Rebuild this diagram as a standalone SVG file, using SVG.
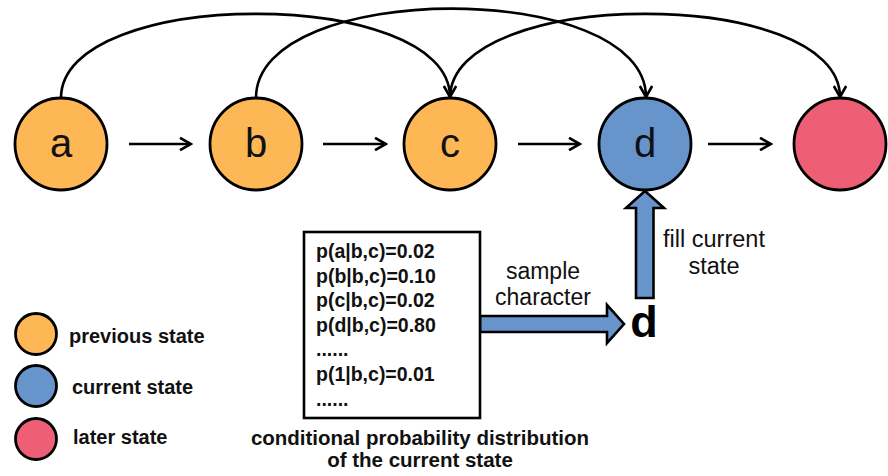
<svg xmlns="http://www.w3.org/2000/svg" width="888" height="476" viewBox="0 0 888 476">
  <style>
    .state { stroke: #000; stroke-width: 2.8; }
    .prev { fill: #FDB755; }
    .cur { fill: #6894CC; }
    .later { fill: #EE5F76; }
    .edge { fill: none; stroke: #000; stroke-width: 2.6; }
    .block { fill: #6894CC; stroke: #000; stroke-width: 2.6; stroke-linejoin: miter; }
    .letter { font-family: "Liberation Sans", Arial, sans-serif; font-size: 40px; text-anchor: middle; fill: #111; }
    .prob { font-family: "Liberation Sans", Arial, sans-serif; font-size: 19.5px; font-weight: bold; fill: #111; }
    .legend { font-family: "Liberation Sans", Arial, sans-serif; font-size: 20px; font-weight: bold; fill: #111; }
    .note { font-family: "Liberation Sans", Arial, sans-serif; font-size: 23px; text-anchor: middle; fill: #111; }
    .caption { font-family: "Liberation Sans", Arial, sans-serif; font-size: 20.5px; font-weight: bold; text-anchor: middle; fill: #111; }
  </style>
  <defs>
    <marker id="chevron" viewBox="0 0 14 14" refX="12" refY="7" markerWidth="14" markerHeight="14" markerUnits="userSpaceOnUse" orient="auto">
      <path d="M1,0.8 L12,7 L1,13.2" fill="none" stroke="#000" stroke-width="2.6" stroke-linejoin="miter"/>
    </marker>
  </defs>

  <!-- connectors -->
  <g id="connectors">
    <path class="edge" d="M129,144 H191" marker-end="url(#chevron)"/>
    <path class="edge" d="M323,144 H386" marker-end="url(#chevron)"/>
    <path class="edge" d="M518,144 H580" marker-end="url(#chevron)"/>
    <path class="edge" d="M708,144 H771" marker-end="url(#chevron)"/>
    <path class="edge" d="M61,98 C61,-14 450,-14 450,97" marker-end="url(#chevron)"/>
    <path class="edge" d="M256,98 C256,-21 646,-21 646,97" marker-end="url(#chevron)"/>
    <path class="edge" d="M450,98 C450,-14 840,-14 840,97" marker-end="url(#chevron)"/>
    <!-- sample character: distribution box to chosen symbol -->
    <polygon id="sample-arrow" class="block" points="480,316 607,316 607,305 624,324 607,343 607,332 480,332"/>
    <!-- fill current state: symbol up into node d -->
    <polygon id="fill-arrow" class="block" points="645,191 664,208 653.5,208 653.5,298 636,298 636,208 626,208"/>
  </g>

  <!-- state nodes -->
  <g id="node-a">
    <circle class="state prev" cx="61" cy="144" r="46"/>
    <text class="letter" x="61" y="157">a</text>
  </g>
  <g id="node-b">
    <circle class="state prev" cx="256" cy="144" r="46"/>
    <text class="letter" x="256" y="157">b</text>
  </g>
  <g id="node-c">
    <circle class="state prev" cx="450" cy="144" r="46"/>
    <text class="letter" x="450" y="157">c</text>
  </g>
  <g id="node-d">
    <circle class="state cur" cx="645" cy="144" r="46"/>
    <text class="letter" x="645" y="157">d</text>
  </g>
  <g id="node-next">
    <circle class="state later" cx="840" cy="144" r="46"/>
  </g>

  <!-- conditional probability table -->
  <g id="distribution">
    <rect x="304" y="232" width="176" height="186" fill="#fff" stroke="#000" stroke-width="2.6"/>
    <text class="prob" x="316" y="258">p(a|b,c)=0.02</text>
    <text class="prob" x="316" y="282.6">p(b|b,c)=0.10</text>
    <text class="prob" x="316" y="307.2">p(c|b,c)=0.02</text>
    <text class="prob" x="316" y="331.8">p(d|b,c)=0.80</text>
    <text class="prob" x="316" y="356.4">......</text>
    <text class="prob" x="316" y="381">p(1|b,c)=0.01</text>
    <text class="prob" x="316" y="405.6">......</text>
  </g>
  <g id="caption">
    <text class="caption" x="420" y="445">conditional probability distribution</text>
    <text class="caption" x="420" y="467">of the current state</text>
  </g>

  <g id="sample-label">
    <text class="note" x="543" y="279">sample</text>
    <text class="note" x="543" y="305">character</text>
  </g>
  <g id="fill-label">
    <text class="note" x="714" y="247" style="font-size:23.5px">fill current</text>
    <text class="note" x="714" y="274" style="font-size:23.5px">state</text>
  </g>
  <g id="sampled-symbol">
    <text x="644" y="337" font-family="Liberation Sans, Arial, sans-serif" font-size="45" font-weight="bold" text-anchor="middle" fill="#000">d</text>
  </g>

  <!-- legend -->
  <g id="legend">
    <circle class="state prev" cx="36" cy="334" r="20.5"/>
    <text class="legend" x="69" y="343">previous state</text>
    <circle class="state cur" cx="36" cy="386" r="20.5"/>
    <text class="legend" x="72" y="394">current state</text>
    <circle class="state later" cx="36" cy="439" r="20.5"/>
    <text class="legend" x="73" y="444">later state</text>
  </g>
</svg>
